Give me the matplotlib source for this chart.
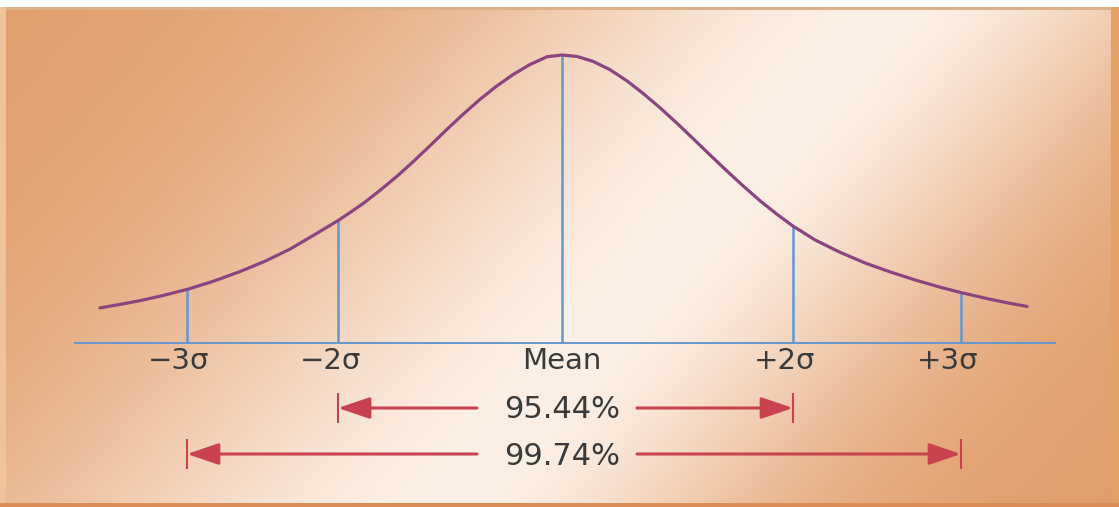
import numpy as np
import matplotlib
matplotlib.use("Agg")
import matplotlib.pyplot as plt
from matplotlib.patches import FancyArrowPatch
from matplotlib.transforms import offset_copy

# ---------------- data ----------------
# bell curve: x in arbitrary score units (mean = 0), y in % of peak height
curve_x = [-4.62, -4.42, -4.22, -3.99, -3.75, -3.49, -3.22, -2.97, -2.72, -2.48,
           -2.24, -2.12, -1.99, -1.82, -1.65, -1.49, -1.32, -1.15, -0.99, -0.82,
           -0.65, -0.49, -0.32, -0.15, 0.00,
           0.15, 0.31, 0.48, 0.65, 0.81, 0.98, 1.15, 1.31, 1.48, 1.65,
           1.81, 1.98, 2.15, 2.31, 2.53, 2.78, 3.03, 3.28, 3.53, 3.78,
           3.99, 4.28, 4.46, 4.65]
curve_y = [12.2, 13.4, 14.7, 16.5, 18.6, 21.4, 24.8, 28.4, 32.6, 37.5,
           42.5, 45.3, 48.4, 53.0, 57.9, 62.9, 68.5, 74.2, 79.4, 84.6,
           89.3, 93.2, 96.7, 99.4, 100.0,
           99.5, 97.8, 94.9, 91.0, 86.7, 81.7, 76.3, 71.0, 65.3, 59.7,
           54.6, 49.4, 44.7, 40.6, 35.8, 31.5, 27.8, 24.7, 21.9, 19.4,
           17.5, 15.2, 13.9, 12.7]

marker_labels = ["\u22123\u03c3", "\u22122\u03c3", "Mean", "+2\u03c3", "+3\u03c3"]
marker_x = [-3.75, -2.24, 0.00, 2.31, 3.99]
marker_h = [18.6, 42.5, 100.0, 40.6, 17.5]

range_labels = ["95.44%", "99.74%"]
range_lo = [-2.24, -3.75]
range_hi = [2.31, 3.99]

# ---------------- figure ----------------
W, H = 1119, 507
fig = plt.figure(figsize=(W / 100, H / 100), dpi=100)
fig.patch.set_facecolor("white")

# background gradient (styling)
bg = fig.add_axes([0, 0, 1, 1])
bg.set_axis_off()
yy, xx = np.mgrid[0:H, 0:W].astype(float)
d = 0.748 * (xx - 900) + 0.664 * yy
s = np.where(d < 0, 330.0, 230.0)
w = np.exp(-(d / s) ** 2)[..., None]
orange = np.array([0xE1, 0x9E, 0x6C]) / 255.0
light = np.array([0xFC, 0xF0, 0xE6]) / 255.0
img = orange * (1 - w) + light * w
img[:7] = 1.0
bg.imshow(img, extent=(0, W, H, 0), aspect="auto", interpolation="bilinear")
bg.set_xlim(0, W)
bg.set_ylim(H, 0)
bg.axhspan(7, 10, color="#dcb088", lw=0)
bg.axvspan(0, 6, ymin=0, ymax=(H - 7) / H, color="#efc49c", lw=0)
bg.axvspan(1111, W, ymin=0, ymax=(H - 7) / H, color="#e2a066", lw=0)
bg.axhspan(503, H, color="#d98e55", lw=0)

# main drawing axes
ax = fig.add_axes([0, 0, 1, 1])
ax.patch.set_alpha(0)
ax.set_axis_off()
ax.set_xlim(-5.62, 5.57)
ax.set_ylim(-56.94, 119.10)

curve_col = "#8a4580"
blue = "#6497d0"
red = "#c8424f"
txt = "#3a3a3a"
font = "DejaVu Sans"

ax.plot([-4.87, 4.93], [0, 0], color=blue, lw=1.4, zorder=2)
ax.vlines(marker_x, 0, marker_h, color=blue, lw=1.8, zorder=2)
ax.plot(curve_x, curve_y, color=curve_col, lw=2.3, solid_joinstyle="round",
        solid_capstyle="round", zorder=3)

label_dx_px = [-8, -7, 0, -8, -13]
for lab, x, dx in zip(marker_labels, marker_x, label_dx_px):
    tr = offset_copy(ax.transData, fig=fig, x=dx, y=0, units="dots")
    ax.text(x, -9.03, lab, ha="center", va="baseline", fontsize=21,
            color=txt, family=font, transform=tr)

row_line_y = [-22.57, -38.54]
row_text_y = [-26.04, -42.36]
gap_left, gap_right = -0.85, 0.75
for lab, lo, hi, ly, ty in zip(range_labels, range_lo, range_hi, row_line_y, row_text_y):
    ax.text(0, ty, lab, ha="center", va="baseline", fontsize=22,
            color=txt, family=font)
    for start, end in ((gap_left, lo), (gap_right, hi)):
        arr = FancyArrowPatch((start, ly), (end, ly),
                              arrowstyle="-|>,head_length=1.0,head_width=0.34",
                              mutation_scale=19.5, color=red, lw=2.2,
                              shrinkA=0, shrinkB=0, zorder=3)
        ax.add_patch(arr)
    ax.vlines([lo, hi], ly - 5.3, ly + 5.3, color=red, lw=1.5, zorder=3)

fig.savefig("out.png", dpi=100, facecolor=fig.get_facecolor())
